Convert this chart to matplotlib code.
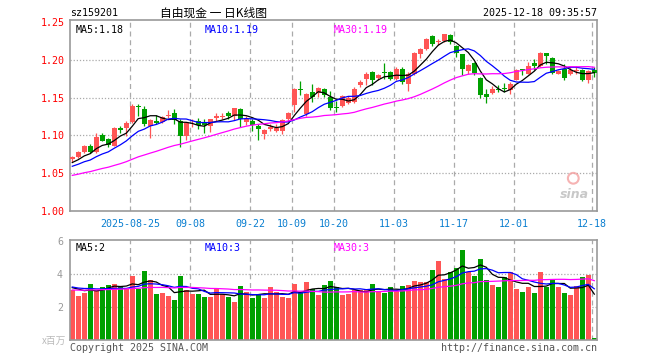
import numpy as np
import pandas as pd
import matplotlib
matplotlib.use("Agg")
import matplotlib.pyplot as plt

# trading days shown (Oct 1-8 holiday removed)
days = pd.bdate_range("2025-08-11", "2025-12-18")
days = days[(days < "2025-10-01") | (days > "2025-10-08")]

opens = [1.0684, 1.0715, 1.078, 1.086, 1.0785, 1.100, 1.095, 1.0865, 1.110, 1.1095,
         1.1175, 1.1393, 1.135, 1.1127, 1.1185, 1.1175, 1.1263, 1.1298, 1.1188, 1.099,
         1.1160, 1.1187, 1.1178, 1.1125, 1.1227, 1.1249, 1.129, 1.1254, 1.1347, 1.1175,
         1.1187, 1.112, 1.1022, 1.108, 1.1054, 1.1054, 1.1223, 1.140, 1.1613, 1.128,
         1.1578, 1.1556, 1.1613, 1.151, 1.137, 1.1385, 1.143, 1.1443, 1.1665, 1.1752,
         1.184, 1.176, 1.1838, 1.184, 1.175, 1.1885, 1.1677, 1.182, 1.2084, 1.215,
         1.2314, 1.2234, 1.2252, 1.2327, 1.2181, 1.2075, 1.1854, 1.196, 1.1766, 1.1545,
         1.1562, 1.162, 1.1624, 1.1607, 1.174, 1.188, 1.182, 1.196, 1.1916, 1.2088,
         1.2031, 1.1818, 1.1885, 1.181, 1.185, 1.1863, 1.173, 1.1863]
highs = [1.073, 1.0795, 1.0877, 1.089, 1.103, 1.103, 1.097, 1.111, 1.112, 1.1185,
         1.141, 1.1415, 1.139, 1.122, 1.1275, 1.126, 1.1335, 1.135, 1.122, 1.1175,
         1.1215, 1.1236, 1.122, 1.122, 1.130, 1.130, 1.1325, 1.1365, 1.1365, 1.1254,
         1.122, 1.1156, 1.109, 1.1156, 1.1156, 1.1218, 1.1312, 1.1622, 1.1724, 1.1555,
         1.168, 1.1635, 1.1622, 1.159, 1.146, 1.153, 1.1518, 1.164, 1.173, 1.184,
         1.185, 1.182, 1.196, 1.1855, 1.19, 1.19, 1.184, 1.2106, 1.216, 1.2292,
         1.2327, 1.228, 1.235, 1.234, 1.2194, 1.2084, 1.195, 1.197, 1.178, 1.162,
         1.165, 1.1664, 1.1695, 1.171, 1.1885, 1.1885, 1.1973, 1.2018, 1.2106, 1.2097,
         1.204, 1.187, 1.194, 1.1907, 1.1916, 1.1885, 1.187, 1.1907]
lows = [1.065, 1.070, 1.0767, 1.0765, 1.077, 1.092, 1.084, 1.0857, 1.1035, 1.0996,
        1.116, 1.125, 1.113, 1.0965, 1.1145, 1.116, 1.1228, 1.115, 1.0846, 1.0935,
        1.111, 1.109, 1.103, 1.1045, 1.119, 1.121, 1.121, 1.12, 1.111, 1.1135,
        1.1058, 1.0943, 1.0947, 1.1054, 1.1045, 1.1014, 1.1187, 1.1312, 1.1533, 1.1254,
        1.1444, 1.1511, 1.1511, 1.1333, 1.131, 1.137, 1.142, 1.143, 1.164, 1.1665,
        1.1665, 1.174, 1.175, 1.173, 1.174, 1.1686, 1.159, 1.18, 1.203, 1.2137,
        1.218, 1.2194, 1.2234, 1.2208, 1.204, 1.1797, 1.182, 1.1797, 1.150, 1.143,
        1.1545, 1.1576, 1.1576, 1.1554, 1.173, 1.1797, 1.181, 1.1863, 1.1907, 1.195,
        1.1818, 1.181, 1.173, 1.1797, 1.181, 1.172, 1.1695, 1.1775]
closes = [1.0715, 1.078, 1.086, 1.078, 1.098, 1.093, 1.087, 1.1095, 1.1075, 1.117,
          1.1395, 1.1375, 1.1155, 1.1205, 1.117, 1.124, 1.1275, 1.1197, 1.099, 1.116,
          1.1168, 1.1143, 1.1143, 1.121, 1.1253, 1.1262, 1.1263, 1.1356, 1.1213, 1.121,
          1.1134, 1.109, 1.1077, 1.1112, 1.1098, 1.12, 1.129, 1.1613, 1.160, 1.1547,
          1.1511, 1.1622, 1.1533, 1.1365, 1.136, 1.1518, 1.150, 1.162, 1.1708, 1.182,
          1.173, 1.180, 1.1825, 1.175, 1.1885, 1.171, 1.182, 1.2097, 1.2141, 1.2283,
          1.2208, 1.2252, 1.234, 1.2239, 1.2097, 1.1885, 1.193, 1.1827, 1.153, 1.151,
          1.162, 1.1607, 1.161, 1.1686, 1.187, 1.1863, 1.1916, 1.192, 1.2097, 1.2049,
          1.1827, 1.1854, 1.1766, 1.1872, 1.1863, 1.174, 1.1854, 1.1827]
volumes = [3.03, 2.67, 2.83, 3.39, 2.97, 3.23, 3.33, 3.39, 3.27, 3.11,
           3.87, 3.11, 4.17, 3.61, 2.79, 2.85, 2.67, 2.43, 3.87, 3.03,
           2.79, 2.79, 2.61, 2.61, 3.07, 2.79, 2.61, 2.31, 3.27, 2.91,
           2.55, 2.73, 2.55, 3.23, 2.91, 2.61, 2.55, 3.39, 2.91, 3.51,
           3.07, 2.73, 3.33, 3.57, 3.23, 2.73, 2.79, 3.01, 3.03, 3.01,
           3.39, 2.97, 2.85, 3.21, 2.97, 3.27, 3.33, 3.57, 3.51, 3.51,
           4.24, 4.78, 3.67, 4.12, 4.36, 5.44, 4.12, 3.88, 4.90, 3.65,
           3.33, 3.21, 3.81, 4.14, 3.09, 2.91, 3.21, 2.85, 4.14, 3.21,
           3.69, 3.21, 2.85, 2.73, 3.27, 3.81, 3.93, 0.16]

# closes / volumes of the 29 sessions before the window (feed the moving averages)
prev_closes = [1.030, 1.028, 1.033, 1.035, 1.032, 1.036, 1.038, 1.040, 1.037, 1.041,
               1.043, 1.042, 1.045, 1.046, 1.044, 1.047, 1.049, 1.048, 1.050, 1.052,
               1.051, 1.053, 1.055, 1.054, 1.057, 1.059, 1.061, 1.063, 1.065]
prev_volumes = [2.9, 3.1, 2.7, 3.0, 2.8, 3.2, 2.9, 3.0, 2.6, 3.1,
                2.8, 3.0, 3.2, 2.9, 2.7, 3.1, 3.0, 2.9, 3.1, 2.8,
                3.3, 3.1, 3.4, 3.2, 3.25, 3.1, 3.3, 3.2, 3.22]

tick_dates = ["2025-08-25", "2025-09-08", "2025-09-22", "2025-10-09", "2025-10-20",
              "2025-11-03", "2025-11-17", "2025-12-01", "2025-12-18"]
tick_labels = ["2025-08-25", "09-08", "09-22", "10-09", "10-20",
               "11-03", "11-17", "12-01", "12-18"]

RED = "#ff5555"
GREEN = "#00a000"
GRID = "#aaaaaa"
MONO = "DejaVu Sans Mono"

n = len(closes)
x = np.arange(n)
npre = len(prev_closes)


def ma(vals, pre, k):
    s = pd.Series(list(pre) + list(vals)).rolling(k).mean().values
    return s[len(pre):]


fig = plt.figure(figsize=(6.6, 3.6), dpi=100)
ax = fig.add_axes([70 / 660, 1 - 210.7 / 360, 527 / 660, 190.7 / 360])
axv = fig.add_axes([70 / 660, 1 - 340.3 / 360, 527 / 660, 100.3 / 360])

xlim = (-0.38, 87.45)
tick_pos = [list(days.strftime("%Y-%m-%d")).index(d) - 0.38 for d in tick_dates]

o = np.array(opens); c = np.array(closes); h = np.array(highs); l = np.array(lows)
up = c >= o
cols = np.where(up, RED, GREEN)

for a in (ax, axv):
    a.set_xlim(*xlim)
    for s in a.spines.values():
        s.set_color("#999999")
        s.set_linewidth(1.2)
    for t in tick_pos:
        a.axvline(t, color=GRID, lw=0.9, ls=(0, (4, 3)), zorder=0)
    a.set_xticks([])

# price panel
ax.set_ylim(1.0, 1.253)
for yv in [1.05, 1.10, 1.15, 1.20]:
    ax.axhline(yv, color=GRID, lw=0.9, ls=(0, (1, 1.5)), zorder=0)
ax.vlines(x, l, h, colors=cols, lw=0.9, zorder=2)
body = np.maximum(np.abs(c - o), 0.0008)
ax.bar(x, body, bottom=np.minimum(o, c), width=0.78, color=cols, zorder=3)

m5 = ma(closes, prev_closes, 5)
m10 = ma(closes, prev_closes, 10)
m30 = ma(closes, prev_closes, 30)
ax.plot(x, m5, color="black", lw=0.9, zorder=4)
ax.plot(x, m10, color="#0000ff", lw=0.9, zorder=4)
ax.plot(x, m30, color="#ff00ff", lw=0.9, zorder=4)

ax.set_yticks([1.00, 1.05, 1.10, 1.15, 1.20, 1.25])
ax.set_yticklabels(["1.00", "1.05", "1.10", "1.15", "1.20", "1.25"],
                   color="red", fontfamily=MONO, fontsize=7.2)
ax.tick_params(axis="y", length=0, pad=4)

ax.text(0.01, 0.975, f"MA5:{m5[-1]:.2f}", transform=ax.transAxes, color="black",
        fontfamily=MONO, fontsize=7.2, va="top")
ax.text(0.255, 0.975, f"MA10:{m10[-1]:.2f}", transform=ax.transAxes, color="#0000ff",
        fontfamily=MONO, fontsize=7.2, va="top")
ax.text(0.50, 0.975, f"MA30:{m30[-1]:.2f}", transform=ax.transAxes, color="#ff00ff",
        fontfamily=MONO, fontsize=7.2, va="top")

for t, lab in zip(tick_pos, tick_labels):
    ax.text(t, -0.045, lab, transform=ax.get_xaxis_transform(), ha="center", va="top",
            color="#0a7fd0", fontfamily=MONO, fontsize=7.2)

# sina mark
ax.text(0.985, 0.05, "sina", transform=ax.transAxes, ha="right", va="bottom",
        color="#bbbbbb", fontsize=9, fontweight="bold", style="italic", alpha=0.8)
ax.scatter([0.955], [0.17], s=60, transform=ax.transAxes, facecolors="none",
           edgecolors="#f4a0a0", linewidths=1.5, alpha=0.8)

# volume panel
axv.set_ylim(0, 6.04)
for yv in [2, 4]:
    axv.axhline(yv, color=GRID, lw=0.9, ls=(0, (1, 1.5)), zorder=0)
axv.bar(x, volumes, width=0.78, color=cols, zorder=2)
v5 = ma(volumes, prev_volumes, 5)
v10 = ma(volumes, prev_volumes, 10)
v30 = ma(volumes, prev_volumes, 30)
axv.plot(x, v5, color="black", lw=0.9, zorder=4)
axv.plot(x, v10, color="#0000ff", lw=0.9, zorder=4)
axv.plot(x, v30, color="#ff00ff", lw=0.9, zorder=4)
axv.set_yticks([2, 4, 6])
axv.set_yticklabels(["2", "4", "6"], color="#999999", fontfamily=MONO, fontsize=7.2)
axv.tick_params(axis="y", length=0, pad=5)

axv.text(0.01, 0.97, f"MA5:{int(v5[-1])}", transform=axv.transAxes, color="black",
         fontfamily=MONO, fontsize=7.2, va="top")
axv.text(0.255, 0.97, f"MA10:{int(v10[-1])}", transform=axv.transAxes, color="#0000ff",
         fontfamily=MONO, fontsize=7.2, va="top")
axv.text(0.50, 0.97, f"MA30:{int(v30[-1])}", transform=axv.transAxes, color="#ff00ff",
         fontfamily=MONO, fontsize=7.2, va="top")

# header / footer texts
fig.text(70 / 660, 1 - 13 / 360, "sz159201", fontfamily=MONO, fontsize=7.2, va="center")
fig.text(213 / 660, 1 - 13 / 360, "自由现金 一 日K线图", ha="center", va="center",
         fontfamily=["Noto Sans CJK SC", "DejaVu Sans"], fontsize=8.5)
fig.text(597 / 660, 1 - 13 / 360, "2025-12-18 09:35:57", ha="right", va="center",
         fontfamily=MONO, fontsize=7.2)
fig.text(66 / 660, 1 - 341 / 360, "x百万", ha="right", va="center", color="#bbbbbb",
         fontfamily=["Noto Sans CJK SC", "DejaVu Sans"], fontsize=7)
fig.text(70 / 660, 1 - 348 / 360, "Copyright 2025 SINA.COM", va="center", color="#555555",
         fontfamily=MONO, fontsize=7.2)
fig.text(597 / 660, 1 - 348 / 360, "http://finance.sina.com.cn", ha="right", va="center",
         color="#555555", fontfamily=MONO, fontsize=7.2)

fig.savefig("out.png", dpi=100)
